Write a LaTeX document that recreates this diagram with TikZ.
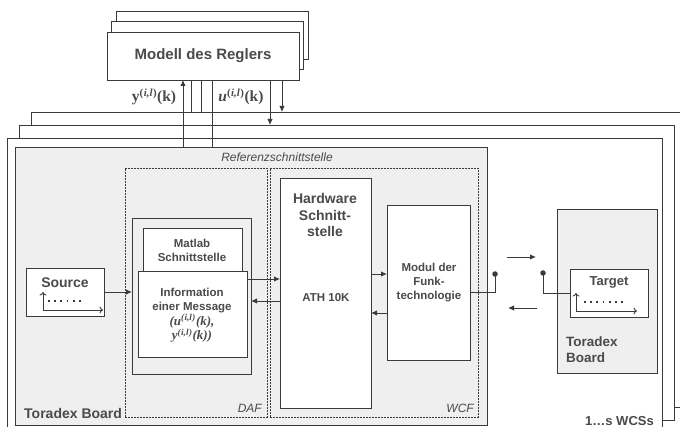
\documentclass[tikz,border=0pt]{standalone}
\usepackage[no-math]{fontspec}
\setmainfont{Liberation Sans}
\newfontfamily\mfnt{Liberation Serif}
\usetikzlibrary{arrows.meta,calc}
\definecolor{lc}{HTML}{3A3A3A}
\definecolor{tc}{HTML}{4A4A4A}
\definecolor{bg}{HTML}{EFEFEF}
\begin{document}
\begin{tikzpicture}[x=1pt,y=-1pt,
 ln/.style={draw=lc,line width=0.9pt},
 box/.style={ln,fill=white,anchor=north west,inner sep=0pt,outer sep=0pt},
 gbox/.style={box,fill=bg},
 dbox/.style={draw=lc,line width=0.8pt,dash pattern=on 1.8pt off 1.2pt,anchor=north west,inner sep=0pt,outer sep=0pt},
 arr/.style={ln,-{Latex[length=6pt,width=5.5pt]}},
 iarr/.style={draw=lc,line width=0.9pt,-{To[length=3.5pt,width=7pt]}},
 dotl/.style={draw=lc,line width=1.7pt,dash pattern=on 1.7pt off 4.5pt},
 txt/.style={text=tc,font=\bfseries,align=center,inner sep=0pt},
 fs/.style 2 args={font=\bfseries\fontsize{#1}{#2}\selectfont},
 it/.style={text=tc,inner sep=0pt,font=\itshape\fontsize{12}{14}\selectfont},
 mth/.style={text=tc,inner sep=0pt,font=\mfnt\bfseries\fontsize{15.5}{17}\selectfont},
 dotc/.style={circle,fill=lc,inner sep=0pt,minimum size=5.5pt},
]
\useasboundingbox (0,0) rectangle (680,427);
\clip (0,0) rectangle (680,427);

% stacked WCS frames
\node[box,minimum width=655pt,minimum height=295pt] (w3) at (31,112) {};
\node[box,minimum width=655pt,minimum height=295pt] (w2) at (19,125) {};
\node[box,minimum width=655pt,minimum height=295pt] (w1) at (7,138) {};

% Modell des Reglers stack
\node[box,minimum width=192pt,minimum height=48pt] (m3) at (116,11) {};
\node[box,minimum width=192pt,minimum height=48pt] (m2) at (111,21) {};
\node[box,minimum width=192pt,minimum height=48pt] (m1) at (107,32) {};
\node[txt,fs={15}{18}] (mt) at (203,56) {Modell des Reglers};

% left Toradex board
\node[gbox,minimum width=472pt,minimum height=278pt] (bl) at (15,147) {};
\node[it] (ref) at (277,157) {Referenzschnittstelle};
\node[txt,fs={14}{17},anchor=west] (tbl) at (24,413) {Toradex Board};

% DAF / WCF
\node[dbox,minimum width=142pt,minimum height=249pt] (daf) at (125,168) {};
\node[dbox,minimum width=208pt,minimum height=249pt] (wcf) at (270,168) {};
\node[it,anchor=east] (daft) at (262,408) {DAF};
\node[it,anchor=east] (wcft) at (474,408) {WCF};

% Matlab group
\node[gbox,minimum width=119pt,minimum height=156pt] (mo) at (132,218) {};
\node[box,minimum width=99pt,minimum height=50pt] (ml) at (143,228) {};
\node[txt,fs={11.5}{14}] (mlt) at (192,250) {Matlab\\Schnittstelle};
\node[box,minimum width=109pt,minimum height=86pt] (info) at (138,271) {};
\node[txt,fs={11.5}{14.5}] (infot) at (192,315) {Information\\einer Message\\{\mfnt\bfseries\itshape\fontsize{13}{14.5}\selectfont (u\textsuperscript{(\kern0.5pt i,l\kern0.5pt)}(k),}\\{\mfnt\bfseries\itshape\fontsize{13}{14.5}\selectfont y\textsuperscript{(\kern0.5pt i,l\kern0.5pt)}(k))}};

% Source
\node[box,minimum width=78pt,minimum height=48pt] (src) at (26,268) {};
\node[txt,fs={14}{17}] (srct) at (65,283) {Source};
\coordinate (sa) at (43,310);
\coordinate (sb) at (43,292);
\coordinate (sc) at (103,310);
\coordinate (sd1) at (48,301);
\coordinate (sd2) at (84,301);
\draw[iarr] (sa) -- (sb);
\draw[iarr] (sa) -- (sc);
\draw[dotl] (sd1) -- (sd2);

% Hardware
\node[box,minimum width=91pt,minimum height=230pt] (hw) at (280,178) {};
\node[txt,fs={14}{16.5}] (hwt) at (325,215) {Hardware\\Schnitt-\\stelle};
\node[txt,fs={11.5}{14}] (ath) at (326,298) {ATH 10K};

% Modul
\node[box,minimum width=83pt,minimum height=155pt] (mod) at (387,205) {};
\node[txt,fs={11.5}{14}] (modt) at (429,283) {Modul der\\Funk-\\technologie};

% right Toradex board and Target
\node[gbox,minimum width=100pt,minimum height=164pt] (br) at (557,209) {};
\node[txt,fs={13.5}{16},align=left,anchor=north west] (tbr) at (566,337) {Toradex\\Board};
\node[box,minimum width=78pt,minimum height=48pt] (tg) at (570,269) {};
\node[txt,fs={13}{16}] (tgt) at (609,282) {Target};
\coordinate (ta) at (576,311);
\coordinate (tb) at (576,293);
\coordinate (tc1) at (637,311);
\coordinate (td1) at (584,302);
\coordinate (td2) at (626,302);
\draw[iarr] (ta) -- (tb);
\draw[iarr] (ta) -- (tc1);
\draw[dotl] (td1) -- (td2);

\node[txt,fs={13}{16},anchor=east] (ws) at (654,421) {1\dots s WCSs};

% source -> DAF
\draw[arr] (src.east) -- (src.east -| mo.west);

% Info <-> Hardware
\coordinate (ih1) at (247,279);
\coordinate (ih2) at (280,279);
\coordinate (hi1) at (280,301);
\coordinate (hi2) at (251,301);
\draw[arr] (ih1) -- (ih2);
\draw[arr] (hi1) -- (hi2);

% Hardware <-> Modul
\coordinate (hm1) at (371,274);
\coordinate (hm2) at (387,274);
\coordinate (mh1) at (387,313);
\coordinate (mh2) at (371,313);
\draw[arr] (hm1) -- (hm2);
\draw[arr] (mh1) -- (mh2);

% antennas
\coordinate (a1) at (470,292);
\coordinate (a2) at (495,292);
\node[dotc] (ad1) at (495,274) {};
\draw[ln] (a1) -- (a2) -- (ad1.center);
\node[dotc] (ad2) at (543,273) {};
\coordinate (a3) at (543,293);
\draw[ln] (ad2.center) -- (a3) -- (tg.west);

% radio arrows
\coordinate (r1) at (507,257);
\coordinate (r2) at (536,257);
\coordinate (l1) at (537,308);
\coordinate (l2) at (508,308);
\draw[arr] (r1) -- (r2);
\draw[arr] (l1) -- (l2);

% Modell connections
\coordinate (y1) at (183,147);
\coordinate (y2) at (183,80);
\draw[arr] (y1) -- (y2);
\coordinate (v1a) at (191,80);
\coordinate (v1b) at (191,112);
\coordinate (v2a) at (201,80);
\coordinate (v2b) at (201,112);
\draw[ln] (v1a) -- (v1b);
\draw[ln] (v2a) -- (v2b);
\coordinate (u1) at (212,80);
\coordinate (u2) at (212,147);
\draw[ln] (u1) -- (u2);
\coordinate (d1a) at (270,80);
\coordinate (d1b) at (270,125);
\coordinate (d2a) at (282,80);
\coordinate (d2b) at (282,112);
\draw[arr] (d1a) -- (d1b);
\draw[arr] (d2a) -- (d2b);
\node[mth] (yl) at (154,97) {y\textsuperscript{(\textit{\kern0.5pt i,l}\kern0.5pt)}(k)};
\node[mth] (ul) at (241,97) {\textit{u}\textsuperscript{(\textit{\kern0.5pt i,l}\kern0.5pt)}(k)};
\end{tikzpicture}
\end{document}
